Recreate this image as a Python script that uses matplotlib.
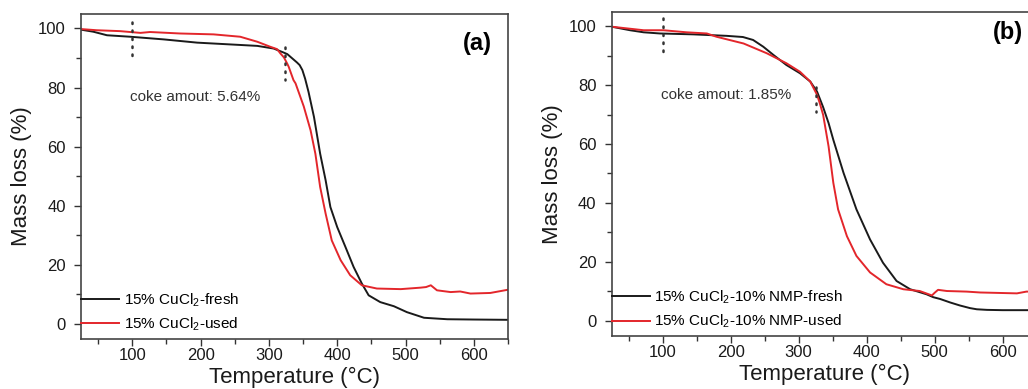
# TGA curves: fresh vs used CuCl2 catalysts, two panels

# Imports
import numpy as np
import matplotlib
matplotlib.use("Agg")
import matplotlib.pyplot as plt
from matplotlib.ticker import MultipleLocator
# ============================================

plt.rcParams['font.family'] = ['Liberation Sans', 'DejaVu Sans']
plt.rcParams['mathtext.default'] = 'regular'
# ============================================

# Data
a_fresh_T = [25, 43, 63, 97, 146, 195, 243, 283, 307, 322, 327, 336, 341, 345, 349,
             353, 358, 366, 375, 383, 390, 400, 412, 424, 436, 446, 463, 483, 502,
             527, 561, 600, 650]
a_fresh_m = [99.6, 98.9, 97.7, 97.2, 96.3, 95.2, 94.6, 94.1, 93.2, 91.8, 91.3, 89.5,
             88.5, 87.6, 85.9, 83.0, 78.5, 70.0, 57.6, 48.6, 39.5, 32.7, 26.0, 19.2,
             13.6, 9.6, 7.3, 5.9, 3.9, 2.0, 1.5, 1.4, 1.3]

a_used_T = [25, 48, 82, 112, 126, 170, 219, 258, 283, 302, 312, 317, 322, 327, 329,
            336, 339, 351, 361, 368, 375, 383, 392, 405, 419, 436, 458, 493, 522,
            530, 537, 546, 566, 580, 595, 624, 650]
a_used_m = [99.8, 99.4, 99.1, 98.5, 98.8, 98.3, 98.0, 97.2, 95.5, 93.8, 93.0, 91.5,
            90.2, 88.0, 87.0, 82.5, 81.4, 73.6, 65.5, 57.6, 46.3, 37.3, 28.2, 21.5,
            16.4, 13.0, 11.9, 11.7, 12.2, 12.4, 13.0, 11.3, 10.7, 10.9, 10.2, 10.4,
            11.5]

b_fresh_T = [25, 52, 72, 96, 145, 194, 218, 233, 248, 263, 282, 302, 317, 327, 336,
             344, 351, 366, 385, 405, 424, 444, 464, 488, 498, 508, 523, 537, 552,
             562, 577, 600, 650]
b_fresh_m = [99.8, 98.6, 97.9, 97.5, 97.2, 96.7, 96.3, 95.3, 93.0, 90.2, 86.8, 84.0,
             81.2, 77.8, 72.5, 67.1, 61.4, 50.2, 37.8, 27.6, 19.7, 13.5, 10.7, 9.0,
             8.0, 7.4, 6.2, 5.2, 4.3, 3.9, 3.7, 3.6, 3.6]

b_used_T = [25, 72, 101, 135, 165, 179, 219, 253, 282, 302, 317, 327, 331, 336, 339,
            344, 351, 358, 371, 385, 405, 429, 454, 478, 496, 500, 505, 518, 547,
            567, 621, 635, 650]
b_used_m = [99.8, 98.6, 98.6, 97.9, 97.5, 96.4, 94.1, 90.8, 87.4, 84.5, 81.2, 76.7,
            73.9, 69.9, 65.9, 59.2, 46.8, 37.8, 28.7, 22.0, 16.4, 12.4, 10.7, 10.1,
            8.6, 9.5, 10.5, 10.1, 9.9, 9.6, 9.3, 9.9, 9.9]

# dotted markers (temperature, start, end) and annotations
a_marks = [(100, 102.2, 88.7), (324, 93.8, 82.7)]
b_marks = [(100, 102.6, 91.3), (325, 79.5, 71.0)]
a_labels = ['15% CuCl$_2$-fresh', '15% CuCl$_2$-used']
b_labels = ['15% CuCl$_2$-10% NMP-fresh', '15% CuCl$_2$-10% NMP-used']
a_coke = 'coke amout: 5.64%'
b_coke = 'coke amout: 1.85%'
# ============================================

BLACK = '#1a1a1a'
RED = '#e3262b'


def draw_panel(ax, fT, fm, uT, um, labels, marks, coke, tag, tag_xy):
    ax.plot(fT, fm, color=BLACK, lw=1.4, label=labels[0])
    ax.plot(uT, um, color=RED, lw=1.4, label=labels[1])
    for t, y0, y1 in marks:
        ax.plot([t, t], [y0, y1], color='#333333', lw=1.8,
                linestyle=(0, (0.6, 2.6)), dash_capstyle='round')
    ax.text(97, 76.7, coke, fontsize=11, color='#333333', va='center')
    ax.text(tag_xy[0], tag_xy[1], tag, fontsize=17, fontweight='bold',
            ha='center', va='center', color='black')

    ax.set_xlim(25, 650)
    ax.set_ylim(-5.2, 104.9)
    ax.xaxis.set_major_locator(MultipleLocator(100))
    ax.xaxis.set_minor_locator(MultipleLocator(50))
    ax.yaxis.set_major_locator(MultipleLocator(20))
    ax.yaxis.set_minor_locator(MultipleLocator(10))
    ax.tick_params(which='major', direction='out', length=5, width=1.0,
                   labelsize=12, colors='#333333', labelcolor='#1a1a1a')
    ax.tick_params(which='minor', direction='out', length=3.5, width=1.0,
                   colors='#333333')
    ax.tick_params(axis='x', which='major', pad=1.5)
    ax.tick_params(axis='y', which='major', pad=6)
    for s in ax.spines.values():
        s.set_color('#444444')
        s.set_linewidth(1.2)
    ax.set_xlabel('Temperature (°C)', fontsize=16, labelpad=3, color='#1a1a1a')
    ax.set_ylabel('Mass loss (%)', fontsize=16, labelpad=4, color='#1a1a1a')
    ax.legend(loc='lower left', bbox_to_anchor=(0.0, 0.018), frameon=False,
              fontsize=11, handlelength=2.5, handletextpad=0.3,
              labelspacing=0.45, borderpad=0, borderaxespad=0)


# Main
if __name__ == '__main__':
    fig = plt.figure(figsize=(10.28, 3.89), dpi=100)
    ax1 = fig.add_axes([0.0788, 0.1285, 0.4154, 0.8355])
    ax2 = fig.add_axes([0.595, 0.136, 0.4134, 0.834])

    draw_panel(ax1, a_fresh_T, a_fresh_m, a_used_T, a_used_m, a_labels,
               a_marks, a_coke, '(a)', (605, 95))
    draw_panel(ax2, b_fresh_T, b_fresh_m, b_used_T, b_used_m, b_labels,
               b_marks, b_coke, '(b)', (608, 98))

    fig.savefig('out.png', dpi=100)
# ============================================
